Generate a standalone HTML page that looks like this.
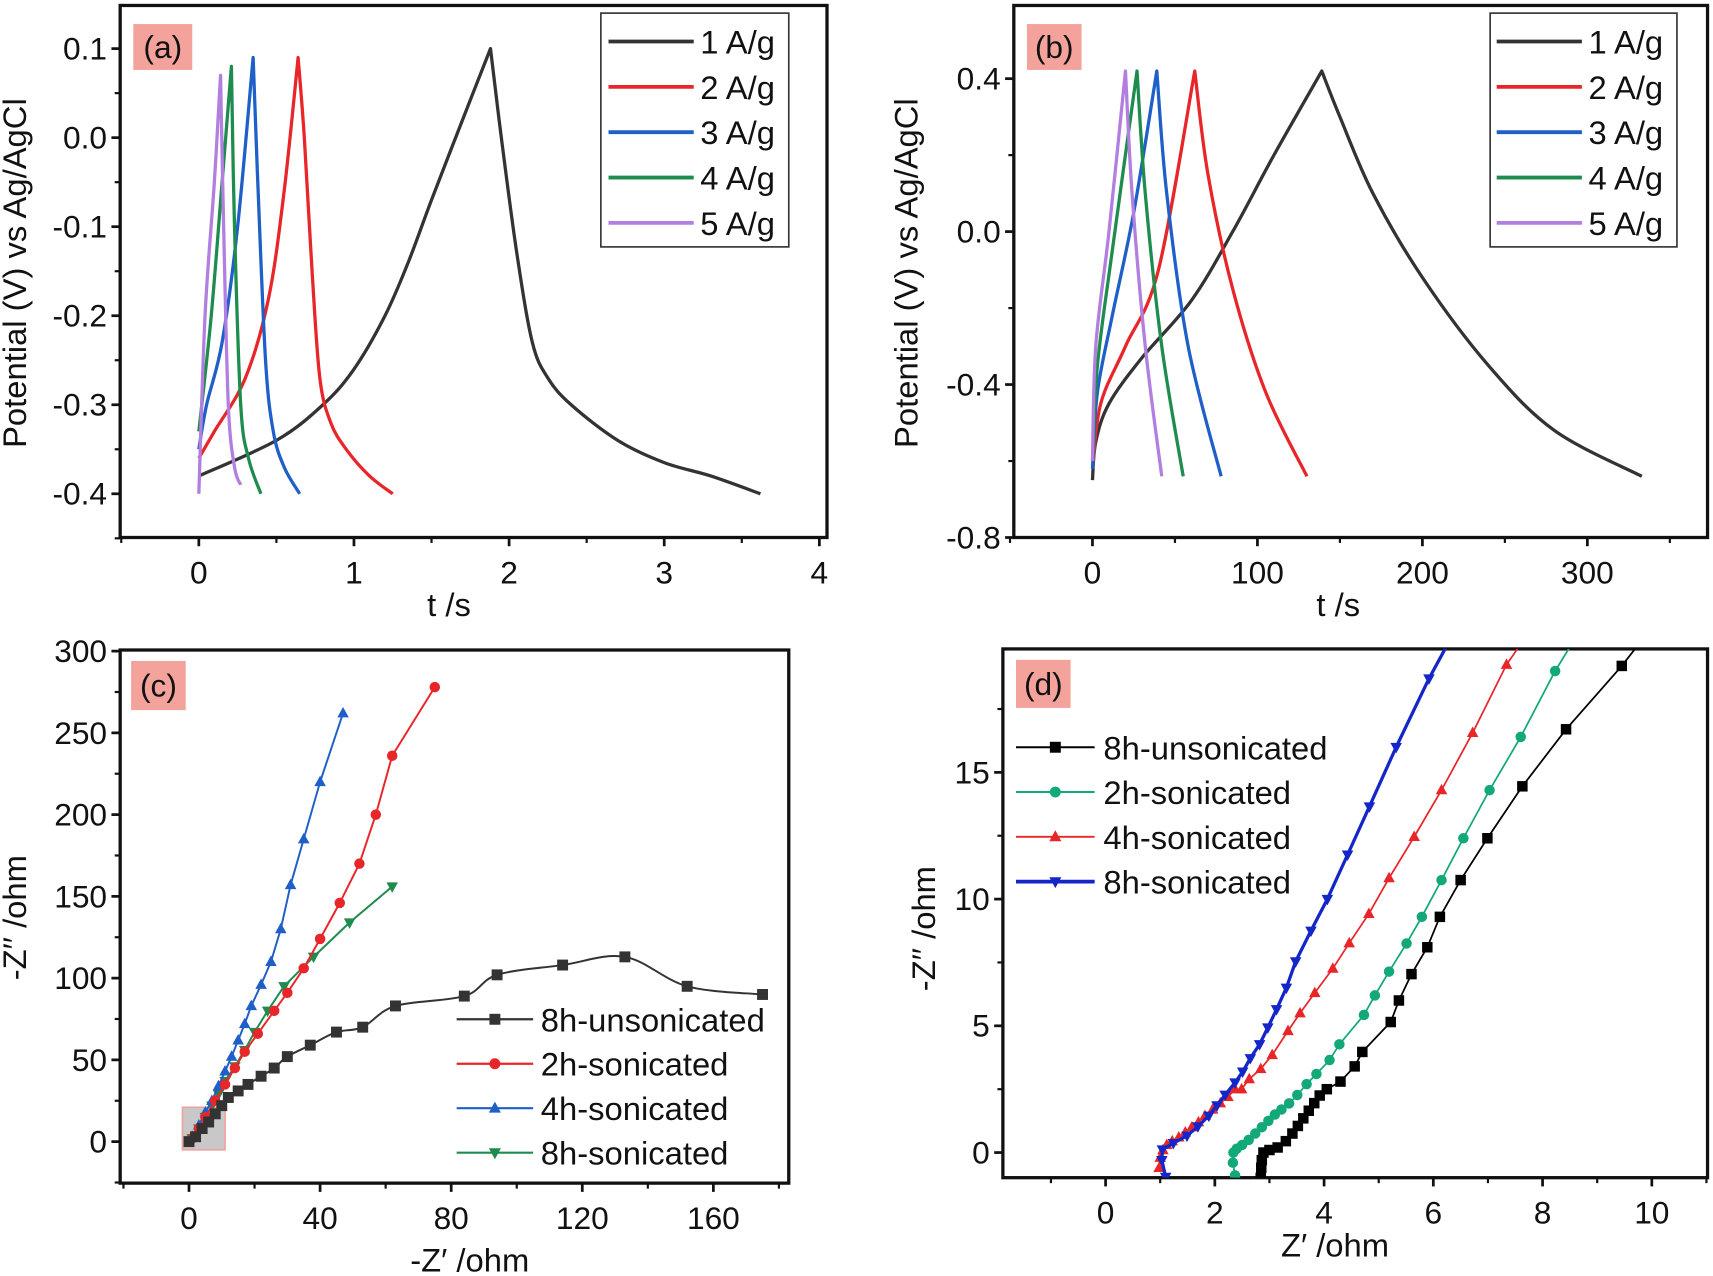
<!DOCTYPE html>
<html><head><meta charset="utf-8"><style>
html,body{margin:0;padding:0;background:#fff}
svg{display:block}
text{font-family:"Liberation Sans",Arial,sans-serif;fill:#111}
</style></head><body>
<svg id="fig" width="1713" height="1276" viewBox="0 0 1568 1168" preserveAspectRatio="none" xmlns="http://www.w3.org/2000/svg"></svg>
<script>
// ---------- Panel (a) data ----------
const aSeries = ["1 A/g","2 A/g","3 A/g","4 A/g","5 A/g"];
const aColors = ["#333333","#e8262a","#1f5fc8","#1e8c4e","#b27ee0"];
const aT1 = [0,0.5,0.8,1.0,1.2,1.35,1.5,1.7,1.88,1.95,2.05,2.15,2.25,2.4,2.7,3.0,3.3,3.62];
const aV1 = [-0.38,-0.34,-0.30,-0.26,-0.2,-0.14,-0.07,0.02,0.1,0.0,-0.13,-0.23,-0.27,-0.3,-0.34,-0.365,-0.38,-0.4];
const aT2 = [0,0.1,0.3,0.45,0.55,0.64,0.68,0.73,0.78,0.85,0.95,1.1,1.25];
const aV2 = [-0.36,-0.33,-0.27,-0.18,-0.06,0.09,0.0,-0.15,-0.27,-0.32,-0.35,-0.38,-0.4];
const aT3 = [0,0.05,0.15,0.25,0.35,0.38,0.43,0.48,0.55,0.65];
const aV3 = [-0.35,-0.3,-0.23,-0.1,0.09,-0.05,-0.25,-0.33,-0.37,-0.4];
const aT4 = [0,0.08,0.15,0.21,0.23,0.27,0.32,0.4];
const aV4 = [-0.33,-0.2,-0.05,0.08,-0.1,-0.3,-0.36,-0.4];
const aT5 = [0,0.04,0.1,0.14,0.16,0.19,0.23,0.27];
const aV5 = [-0.4,-0.2,-0.05,0.07,-0.1,-0.3,-0.37,-0.39];
const aXTicks = [0,1,2,3,4];
const aYTicks = [0.1,0.0,-0.1,-0.2,-0.3,-0.4];
const aYTickLabels = ["0.1","0.0","-0.1","-0.2","-0.3","-0.4"];
// ---------- Panel (b) data ----------
const bT1 = [0,2,10,30,60,85,110,139,150,170,200,240,280,333];
const bV1 = [-0.65,-0.55,-0.45,-0.33,-0.18,0.0,0.2,0.42,0.3,0.1,-0.12,-0.35,-0.52,-0.64];
const bT2 = [0,5,20,40,62,70,85,105,130];
const bV2 = [-0.62,-0.45,-0.3,-0.1,0.42,0.15,-0.15,-0.42,-0.64];
const bT3 = [0,3,12,25,39,45,58,78];
const bV3 = [-0.62,-0.42,-0.22,0.05,0.42,0.1,-0.3,-0.64];
const bT4 = [0,3,12,27,32,42,55];
const bV4 = [-0.6,-0.35,-0.05,0.42,0.1,-0.3,-0.64];
const bT5 = [0,2,10,20,24,32,42];
const bV5 = [-0.6,-0.3,0.0,0.42,0.1,-0.3,-0.64];
const bXTicks = [0,100,200,300];
const bYTicks = [0.4,0.0,-0.4,-0.8];
const bYTickLabels = ["0.4","0.0","-0.4","-0.8"];
// ---------- Panel (c) data ----------
const cSeries = ["8h-unsonicated","2h-sonicated","4h-sonicated","8h-sonicated"];
const cColors = ["#333333","#e8262a","#1f5fc8","#1e8c4e"];
const cX1 = [0,2,4,6,8,10,12,15,18,22,26,30,37,45,53,63,84,94,114,133,152,175];
const cY1 = [0,3,8,12,17,22,27,31,35,40,45,52,59,67,70,83,89,102,108,113,95,90];
const cX2 = [1,3,5,8,11,14,17,21,26,30,35,40,46,52,57,62,75];
const cY2 = [2,8,15,25,35,45,55,66,80,91,106,124,146,170,200,236,278];
const cX3 = [1,3,5,7,9,11,13,15,17,19,22,25,28,31,35,40,47];
const cY3 = [3,10,18,25,34,43,52,62,72,83,96,110,130,157,185,220,262];
const cX4 = [1,3,5,7,9,11,14,17,20,24,29,38,49,62];
const cY4 = [2,8,15,22,29,37,46,56,67,80,95,113,134,156];
const cXTicks = [0,40,80,120,160];
const cYTicks = [0,50,100,150,200,250,300];
// ---------- Panel (d) data ----------
const dSeries = ["8h-unsonicated","2h-sonicated","4h-sonicated","8h-sonicated"];
const dColors = ["#000000","#13a87a","#e8262a","#1426c8"];
const dX1 = [2.84,2.85,2.86,2.89,3.0,3.15,3.3,3.42,3.52,3.62,3.72,3.82,3.92,4.05,4.3,4.56,4.7,5.22,5.37,5.6,5.89,6.12,6.5,6.99,7.63,8.43,9.45,10.1];
const dY1 = [-1,-0.6,-0.3,0,0.1,0.2,0.45,0.75,1.05,1.35,1.65,1.95,2.25,2.5,2.8,3.4,3.97,5.15,6.0,7.04,8.1,9.3,10.75,12.4,14.45,16.7,19.2,21];
const dX2 = [2.37,2.33,2.34,2.4,2.5,2.62,2.74,2.86,2.98,3.1,3.22,3.36,3.51,3.68,3.86,4.1,4.28,4.73,4.93,5.19,5.51,5.79,6.15,6.55,7.03,7.6,8.23,8.8];
const dY2 = [-0.9,-0.4,0,0.15,0.3,0.5,0.75,1.0,1.25,1.5,1.7,1.94,2.27,2.7,3.1,3.65,4.27,5.43,6.2,7.14,8.25,9.3,10.75,12.4,14.3,16.4,19.0,21];
const dX3 = [0.98,1.0,1.05,1.12,1.22,1.34,1.46,1.58,1.7,1.82,1.96,2.1,2.24,2.37,2.49,2.63,2.84,3.05,3.34,3.56,3.83,4.16,4.46,4.82,5.19,5.65,6.15,6.72,7.34,7.9];
const dY3 = [-0.6,-0.2,0.1,0.3,0.45,0.6,0.8,1.0,1.2,1.45,1.7,1.95,2.2,2.5,2.5,2.9,3.3,3.85,4.8,5.5,6.3,7.26,8.26,9.42,10.83,12.46,14.3,16.56,19.25,21];
const dX4 = [1.1,1.03,1.04,1.24,1.49,1.69,1.89,2.04,2.19,2.37,2.51,2.65,2.82,2.97,3.13,3.31,3.48,3.76,4.06,4.43,4.83,5.32,5.92,6.5];
const dY4 = [-0.96,-0.3,0.12,0.37,0.66,1.03,1.45,1.86,2.28,2.76,3.19,3.72,4.27,4.93,5.65,6.5,7.54,8.75,10.0,11.75,13.65,16.0,18.7,21];
const dXTicks = [0,2,4,6,8,10];
const dYTicks = [0,5,10,15];

const NS="http://www.w3.org/2000/svg";
const fig=document.getElementById('fig');
function mk(tag,attrs,parent){const e=document.createElementNS(NS,tag);for(const k in attrs)e.setAttribute(k,attrs[k]);(parent||fig).appendChild(e);return e;}
function scale(d0,d1,p0,p1){return v=>p0+(v-d0)*(p1-p0)/(d1-d0);}
function smoothPath(pts,move){
  let d=(move===false?'L':'M')+pts[0][0]+','+pts[0][1];
  if(pts.length<3){for(let i=1;i<pts.length;i++)d+='L'+pts[i].join(',');return d;}
  for(let i=0;i<pts.length-1;i++){
    const p0=pts[i-1]||pts[i],p1=pts[i],p2=pts[i+1],p3=pts[i+2]||p2;
    const c1=[p1[0]+(p2[0]-p0[0])/6,p1[1]+(p2[1]-p0[1])/6];
    const c2=[p2[0]-(p3[0]-p1[0])/6,p2[1]-(p3[1]-p1[1])/6];
    d+='C'+c1.join(',')+' '+c2.join(',')+' '+p2.join(',');
  }
  return d;
}
function gcdPath(pts){
  let k=0;pts.forEach((p,i)=>{if(p[1]<pts[k][1])k=i;});
  return smoothPath(pts.slice(0,k+1))+smoothPath(pts.slice(k),false);
}
function frame(g,box,name){
  const r=mk('rect',{x:box.l,y:box.t,width:box.r-box.l,height:box.b-box.t,fill:'none',stroke:'#111','stroke-width':3},g);
  
  
}
function xAxis(g,box,sx,ticks,labels,minor,name){
  ticks.forEach((v,i)=>{
    mk('line',{x1:sx(v),x2:sx(v),y1:box.b,y2:box.b+8,stroke:'#111','stroke-width':2.5},g);
    const t=mk('text',{x:sx(v),y:box.b+42,'text-anchor':'middle','font-size':29},g);
    t.textContent=labels[i];
    
    
  });
  minor.forEach(v=>{mk('line',{x1:sx(v),x2:sx(v),y1:box.b,y2:box.b+5,stroke:'#111','stroke-width':2},g);});
}
function yAxis(g,box,sy,ticks,labels,minor,name){
  ticks.forEach((v,i)=>{
    mk('line',{x1:box.l-8,x2:box.l,y1:sy(v),y2:sy(v),stroke:'#111','stroke-width':2.5},g);
    const t=mk('text',{x:box.l-12,y:sy(v)+10,'text-anchor':'end','font-size':29},g);
    t.textContent=labels[i];
    
    
  });
  minor.forEach(v=>{mk('line',{x1:box.l-5,x2:box.l,y1:sy(v),y2:sy(v),stroke:'#111','stroke-width':2},g);});
}
function panelLabel(g,x,y,w,h,txt,name){
  const r=mk('rect',{x:x,y:y,width:w,height:h,fill:'#f4a39c'},g);
  
  
  const t=mk('text',{x:x+w/2,y:y+h/2+10,'text-anchor':'middle','font-size':29},g);
  t.textContent=txt;
  
  
}
function title(g,x,y,txt,rot,name){
  const t=mk('text',{x:x,y:y,'text-anchor':'middle','font-size':30},g);
  if(rot)t.setAttribute('transform','rotate(-90 '+x+' '+y+')');
  t.textContent=txt;
  
  
}
function marker(g,type,x,y,c,s){
  let e;
  if(type==='sq')e=mk('rect',{x:x-s,y:y-s,width:2*s,height:2*s,fill:c},g);
  else if(type==='ci')e=mk('circle',{cx:x,cy:y,r:s,fill:c},g);
  else if(type==='up')e=mk('polygon',{points:`${x},${y-s*1.2} ${x-s*1.1},${y+s*0.8} ${x+s*1.1},${y+s*0.8}`,fill:c},g);
  else e=mk('polygon',{points:`${x},${y+s*1.2} ${x-s*1.1},${y-s*0.8} ${x+s*1.1},${y-s*0.8}`,fill:c},g);
  return e;
}
function clip(id,box){const cp=mk('clipPath',{id:id});mk('rect',{x:box.l,y:box.t,width:box.r-box.l,height:box.b-box.t},cp);}

// ===== Panel (a) =====
(function(){
  const g=mk('g',{});
  const box={l:110,r:757,t:5,b:492};
  const sx=scale(0,4,182,750), sy=scale(0,0.1,126,44.5);
  frame(g,box,'panel-a');
  xAxis(g,box,sx,aXTicks,aXTicks.map(String),[-0.5,0.5,1.5,2.5,3.5],'panel-a');
  yAxis(g,box,sy,aYTicks,aYTickLabels,[0.05,-0.05,-0.15,-0.25,-0.35,-0.45],'panel-a');
  const T=[aT1,aT2,aT3,aT4,aT5],V=[aV1,aV2,aV3,aV4,aV5];
  T.forEach((ts,k)=>{
    const pts=ts.map((t,i)=>[sx(t),sy(V[k][i])]);
    const p=mk('path',{d:gcdPath(pts),fill:'none',stroke:aColors[k],'stroke-width':3,'stroke-linejoin':'round'},g);
    
    
  });
  const lg=mk('g',{},g);
  mk('rect',{x:550,y:12,width:172,height:214,fill:'#fff',stroke:'#333','stroke-width':1.5},lg);
  aSeries.forEach((s,i)=>{
    const y=38+i*41.5;
    mk('line',{x1:557,x2:635,y1:y,y2:y,stroke:aColors[i],'stroke-width':3.5},lg);
    const t=mk('text',{x:641,y:y+11,'font-size':30},lg);t.textContent=s;
    
  });
  panelLabel(g,122,22,54,42,'(a)','panel-a');
  title(g,411,564,'t /s',false,'x-axis-title-a');
  title(g,24,250,'Potential (V) vs Ag/AgCl',true,'y-axis-title-a');
})();

// ===== Panel (b) =====
(function(){
  const g=mk('g',{});
  const box={l:928,r:1563,t:5,b:492};
  const sx=scale(0,100,1000,1151), sy=scale(0,0.4,212,72);
  frame(g,box,'panel-b');
  xAxis(g,box,sx,bXTicks,bXTicks.map(String),[-50,50,150,250,350],'panel-b');
  yAxis(g,box,sy,bYTicks,bYTickLabels,[0.2,-0.2,-0.6],'panel-b');
  const T=[bT1,bT2,bT3,bT4,bT5],V=[bV1,bV2,bV3,bV4,bV5];
  T.forEach((ts,k)=>{
    const pts=ts.map((t,i)=>[sx(t),sy(V[k][i])]);
    const p=mk('path',{d:gcdPath(pts),fill:'none',stroke:aColors[k],'stroke-width':3,'stroke-linejoin':'round'},g);
    
    
  });
  const lg=mk('g',{},g);
  mk('rect',{x:1364,y:12,width:171,height:214,fill:'#fff',stroke:'#333','stroke-width':1.5},lg);
  aSeries.forEach((s,i)=>{
    const y=38+i*41.5;
    mk('line',{x1:1370,x2:1448,y1:y,y2:y,stroke:aColors[i],'stroke-width':3.5},lg);
    const t=mk('text',{x:1454,y:y+11,'font-size':30},lg);t.textContent=s;
    
  });
  panelLabel(g,940,22,50,42,'(b)','panel-b');
  title(g,1225,564,'t /s',false,'x-axis-title-b');
  title(g,840,250,'Potential (V) vs Ag/AgCl',true,'y-axis-title-b');
})();

// ===== Panel (c) =====
(function(){
  const g=mk('g',{});
  const box={l:110,r:722,t:595,b:1083};
  const sx=scale(0,40,173,293), sy=scale(0,300,1045,596);
  frame(g,box,'panel-c');
  xAxis(g,box,sx,cXTicks,cXTicks.map(String),[-20,20,60,100,140,180],'panel-c');
  yAxis(g,box,sy,cYTicks,cYTicks.map(String),[-25,25,75,125,175,225,275],'panel-c');
  const zr=mk('rect',{x:sx(-2),y:sy(21),width:sx(11)-sx(-2),height:sy(-5)-sy(21),fill:'#c8c8c8',stroke:'#f0a0a0','stroke-width':1.5},g);
  
  const X=[cX1,cX2,cX3,cX4],Y=[cY1,cY2,cY3,cY4],M=['sq','ci','up','dn'];
  [3,2,1,0].forEach(k=>{
    const pts=X[k].map((x,i)=>[sx(x),sy(Y[k][i])]);
    const p=mk('path',{d:k===0?smoothPath(pts):'M'+pts.map(p=>p.join(',')).join('L'),fill:'none',stroke:cColors[k],'stroke-width':1.8},g);
    
    pts.forEach(pt=>{const m=marker(g,M[k],pt[0],pt[1],cColors[k],k===0?5:4.8);
      });
  });
  const lg=mk('g',{},g);
  cSeries.forEach((s,i)=>{
    const y=933+i*40.7;
    mk('line',{x1:418,x2:488,y1:y,y2:y,stroke:cColors[i],'stroke-width':2},lg);
    marker(lg,M[i],453,y,cColors[i],5);
    const t=mk('text',{x:495,y:y+11,'font-size':30},lg);t.textContent=s;
    
  });
  panelLabel(g,120,605,50,45,'(c)','panel-c');
  title(g,430,1164,'-Z\u2032 /ohm',false,'x-axis-title-c');
  title(g,24,840,'-Z\u2032\u2032 /ohm',true,'y-axis-title-c');
})();

// ===== Panel (d) =====
(function(){
  const g=mk('g',{});
  const box={l:918,r:1563,t:594,b:1078};
  const sx=scale(0,2,1012,1112), sy=scale(0,5,1055,939);
  clip('clipd',box);
  frame(g,box,'panel-d');
  xAxis(g,box,sx,dXTicks,dXTicks.map(String),[-1,1,3,5,7,9,11],'panel-d');
  yAxis(g,box,sy,dYTicks,dYTicks.map(String),[2.5,7.5,12.5,17.5],'panel-d');
  const pg=mk('g',{'clip-path':'url(#clipd)'},g);
  const X=[dX1,dX2,dX3,dX4],Y=[dY1,dY2,dY3,dY4],M=['sq','ci','up','dn'];
  [0,1,2,3].forEach(k=>{
    const pts=X[k].map((x,i)=>[sx(x),sy(Y[k][i])]);
    const p=mk('path',{d:'M'+pts.map(p=>p.join(',')).join('L'),fill:'none',stroke:dColors[k],'stroke-width':k===3?3:1.6},pg);
    
    pts.slice(0,-1).forEach(pt=>{const m=marker(pg,M[k],pt[0],pt[1],dColors[k],k===0?4.8:4.8);
      });
  });
  const lg=mk('g',{},g);
  dSeries.forEach((s,i)=>{
    const y=684+i*41;
    mk('line',{x1:930,x2:1002,y1:y,y2:y,stroke:dColors[i],'stroke-width':i===3?3.5:1.8},lg);
    marker(lg,M[i],966,y,dColors[i],5);
    const t=mk('text',{x:1010,y:y+11,'font-size':30},lg);t.textContent=s;
    
  });
  panelLabel(g,930,604,50,44,'(d)','panel-d');
  title(g,1222,1150,'Z\u2032  /ohm',false,'x-axis-title-d');
  title(g,856,850,'-Z\u2032\u2032 /ohm',true,'y-axis-title-d');
})();
</script>
</body></html>
